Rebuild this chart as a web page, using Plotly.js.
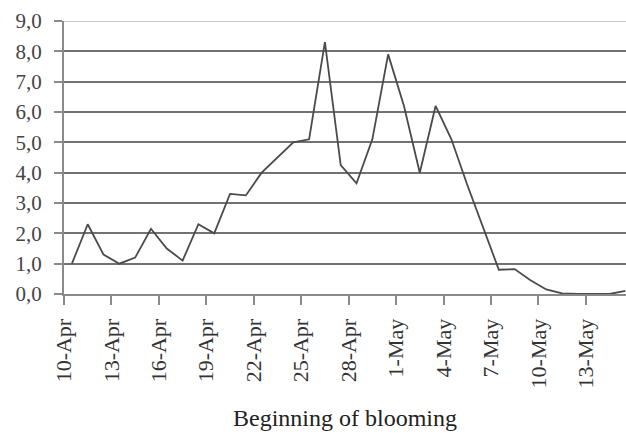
<!DOCTYPE html>
<html>
<head>
<meta charset="utf-8">
<script src="https://cdn.plot.ly/plotly-3.0.1.min.js"></script>
<style>
html,body{margin:0;padding:0;background:#fff;}
#chart{width:626px;height:435px;}
</style>
</head>
<body>
<div id="chart"></div>
<script>
// Each day is plotted at its midpoint (between tick marks)
var days = [
  "2015-04-10 12:00","2015-04-11 12:00","2015-04-12 12:00","2015-04-13 12:00","2015-04-14 12:00",
  "2015-04-15 12:00","2015-04-16 12:00","2015-04-17 12:00","2015-04-18 12:00","2015-04-19 12:00",
  "2015-04-20 12:00","2015-04-21 12:00","2015-04-22 12:00","2015-04-23 12:00","2015-04-24 12:00",
  "2015-04-25 12:00","2015-04-26 12:00","2015-04-27 12:00","2015-04-28 12:00","2015-04-29 12:00",
  "2015-04-30 12:00","2015-05-01 12:00","2015-05-02 12:00","2015-05-03 12:00","2015-05-04 12:00",
  "2015-05-05 12:00","2015-05-06 12:00","2015-05-07 12:00","2015-05-08 12:00","2015-05-09 12:00",
  "2015-05-10 12:00","2015-05-11 12:00","2015-05-12 12:00","2015-05-13 12:00","2015-05-14 12:00",
  "2015-05-15 12:00"
];
var values = [
  1.0, 2.3, 1.3, 1.0, 1.2,
  2.15, 1.5, 1.1, 2.3, 2.0,
  3.3, 3.25, 4.0, 4.5, 5.0,
  5.1, 8.3, 4.25, 3.65, 5.1,
  7.9, 6.2, 4.0, 6.2, 5.1,
  3.6, 2.2, 0.8, 0.82, 0.45,
  0.15, 0.02, 0, 0, 0,
  0.1
];
var tickDates = ["2015-04-10","2015-04-13","2015-04-16","2015-04-19","2015-04-22","2015-04-25",
                 "2015-04-28","2015-05-01","2015-05-04","2015-05-07","2015-05-10","2015-05-13"];
var tickLabels = ["10-Apr","13-Apr","16-Apr","19-Apr","22-Apr","25-Apr",
                  "28-Apr","1-May","4-May","7-May","10-May","13-May"];
var yTicks = [0,1,2,3,4,5,6,7,8,9];
var yLabels = ["0,0","1,0","2,0","3,0","4,0","5,0","6,0","7,0","8,0","9,0"];
var xTitle = "Beginning of blooming";

var font = "Liberation Serif, Times New Roman, serif";

var trace = {
  x: days, y: values, type: "scatter", mode: "lines",
  line: {color: "#4a4a4a", width: 1.8},
  hoverinfo: "skip"
};

var layout = {
  width: 626, height: 435,
  margin: {l: 64, r: 0, t: 21, b: 141, pad: 0},
  paper_bgcolor: "#fff", plot_bgcolor: "#fff",
  showlegend: false,
  font: {family: font, color: "#333", size: 20},
  xaxis: {
    type: "date",
    range: ["2015-04-10", "2015-05-15 13:00"],
    tickmode: "array", tickvals: tickDates, ticktext: tickLabels,
    tickangle: -90,
    ticks: "outside", ticklen: 9, tickwidth: 2, tickcolor: "#8a8a8a",
    showgrid: false, zeroline: false,
    showline: true, linecolor: "#8a8a8a", linewidth: 2,
    tickfont: {family: font, size: 22, color: "#333"},
    ticklabelstandoff: 5,
    title: {text: xTitle, font: {family: font, size: 24, color: "#222"}, standoff: 22},
    fixedrange: true
  },
  yaxis: {
    range: [0, 9],
    tickmode: "array", tickvals: yTicks, ticktext: yLabels,
    ticks: "outside", ticklen: 8, tickwidth: 2, tickcolor: "#8a8a8a",
    showgrid: true, gridcolor: "#727272", gridwidth: 2,
    zeroline: false,
    showline: true, linecolor: "#8a8a8a", linewidth: 2,
    tickfont: {family: font, size: 21, color: "#444"},
    ticklabelstandoff: 8,
    fixedrange: true
  },
  shapes: [{
    type: "line", xref: "paper", yref: "y", x0: 0, x1: 1, y0: 9, y1: 9,
    line: {color: "#c8c8c8", width: 2}, layer: "above"
  }]
};

Plotly.newPlot("chart", [trace], layout, {displayModeBar: false, staticPlot: true});
</script>
</body>
</html>
